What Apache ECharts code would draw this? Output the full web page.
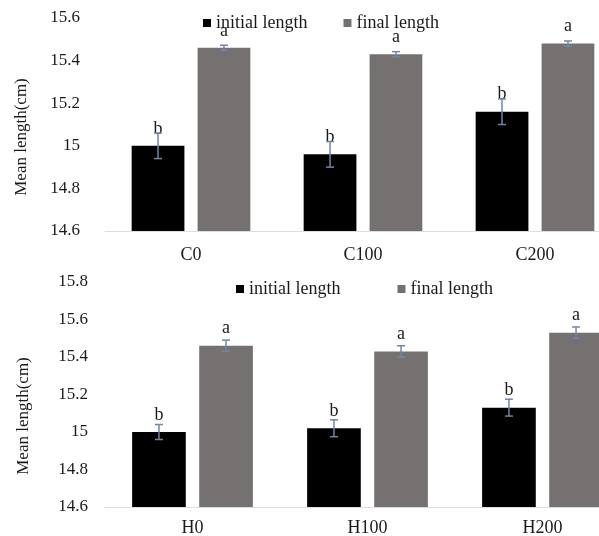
<!DOCTYPE html>
<html>
<head>
<meta charset="utf-8">
<script src="https://cdn.jsdelivr.net/npm/echarts@6/dist/echarts.min.js"></script>
<style>html,body{margin:0;padding:0;background:#fff}#c{width:599px;height:536px}</style>
</head>
<body>
<div id="c"></div>
<script>
// ---- data ----
const topCategories = ['C0', 'C100', 'C200'];
const topInitial = [15.00, 14.96, 15.16];
const topInitialErr = [0.06, 0.06, 0.06];
const topFinal = [15.46, 15.43, 15.48];
const topFinalErr = [0.012, 0.012, 0.012];
const topInitialLetters = ['b', 'b', 'b'];
const topFinalLetters = ['a', 'a', 'a'];

const botCategories = ['H0', 'H100', 'H200'];
const botInitial = [15.00, 15.02, 15.13];
const botInitialErr = [0.04, 0.045, 0.045];
const botFinal = [15.46, 15.43, 15.53];
const botFinalErr = [0.03, 0.03, 0.03];
const botInitialLetters = ['b', 'b', 'b'];
const botFinalLetters = ['a', 'a', 'a'];

const seriesNames = ['initial length', 'final length'];
const yAxisTitle = 'Mean length(cm)';

// ---- styles ----
const FONT = '"Liberation Serif", "Times New Roman", serif';
const TXT = '#1a1a1a';
const C_INIT = '#000000';
const C_FINAL = '#767171';
const C_ERR = '#7186a4';
const CAT_GAP = 0.31, BAR_GAP = 0.25;

function errRender(sign) {
  return function (params, api) {
    const cat = api.value(0), v = api.value(1), e = api.value(2);
    const W = api.size([1, 0])[0];
    const b = W * (1 - CAT_GAP) / (2 + BAR_GAP);
    const off = sign * (b / 2 + b * BAR_GAP / 2);
    const x = api.coord([cat, v])[0] + off;
    const yT = api.coord([cat, v + e])[1];
    const yB = api.coord([cat, v - e])[1];
    const st = { stroke: C_ERR, lineWidth: 1.5 };
    return {
      type: 'group',
      children: [
        { type: 'line', shape: { x1: x, y1: yT, x2: x, y2: yB }, style: st },
        { type: 'line', shape: { x1: x - 4, y1: yT, x2: x + 4, y2: yT }, style: st },
        { type: 'line', shape: { x1: x - 4, y1: yB, x2: x + 4, y2: yB }, style: st }
      ]
    };
  };
}

function barSeries(name, data, letters, color, idx) {
  return {
    name: name, type: 'bar', xAxisIndex: idx, yAxisIndex: idx,
    data: data, barCategoryGap: (CAT_GAP * 100) + '%', barGap: (BAR_GAP * 100) + '%',
    itemStyle: { color: color },
    label: {
      show: true, position: 'top', distance: 8,
      formatter: p => letters[p.dataIndex],
      fontFamily: FONT, fontSize: 18, color: TXT
    },
    emphasis: { disabled: true }
  };
}
function errSeries(values, errs, sign, idx) {
  return {
    type: 'custom', xAxisIndex: idx, yAxisIndex: idx, z: 5,
    renderItem: errRender(sign),
    encode: { x: 0, y: 1 },
    data: values.map((v, i) => [i, v, errs[i]]),
    silent: true, clip: false
  };
}
function xAx(cats, idx, margin) {
  return {
    type: 'category', gridIndex: idx, data: cats,
    axisLine: { lineStyle: { color: '#d9dde6', width: 1 } },
    axisTick: { show: false },
    axisLabel: { fontFamily: FONT, fontSize: 18, color: TXT, margin: margin }
  };
}
function yAx(idx, min, max, margin) {
  return {
    type: 'value', gridIndex: idx, min: min, max: max, interval: 0.2,
    axisLine: { show: false }, axisTick: { show: false }, splitLine: { show: false },
    axisLabel: {
      fontFamily: FONT, fontSize: 17, color: TXT, margin: margin,
      formatter: v => String(+v.toFixed(1))
    }
  };
}

const chart = echarts.init(document.getElementById('c'));
chart.setOption({
  animation: false,
  backgroundColor: '#fff',
  grid: [
    { left: 105, top: 18, width: 516, height: 213, outerBoundsMode: 'none', containLabel: false },
    { left: 105, top: 282, width: 525, height: 225, outerBoundsMode: 'none', containLabel: false }
  ],
  legend: [
    {
      left: 198, top: 9, itemWidth: 8, itemHeight: 8, itemGap: 36, icon: 'rect',
      data: seriesNames, textStyle: { fontFamily: FONT, fontSize: 18, color: TXT }, selectedMode: false
    },
    {
      left: 231, top: 275, itemWidth: 8, itemHeight: 8, itemGap: 57, icon: 'rect',
      data: seriesNames, textStyle: { fontFamily: FONT, fontSize: 18, color: TXT }, selectedMode: false
    }
  ],
  xAxis: [xAx(topCategories, 0, 15), xAx(botCategories, 1, 12)],
  yAxis: [yAx(0, 14.6, 15.6, 25), yAx(1, 14.6, 15.8, 17)],
  graphic: [
    { type: 'text', x: 22, y: 137, rotation: Math.PI / 2,
      style: { text: yAxisTitle, font: '17px ' + FONT, fill: TXT, align: 'center', verticalAlign: 'middle' } },
    { type: 'text', x: 24, y: 416, rotation: Math.PI / 2,
      style: { text: yAxisTitle, font: '17px ' + FONT, fill: TXT, align: 'center', verticalAlign: 'middle' } }
  ],
  series: [
    barSeries(seriesNames[0], topInitial, topInitialLetters, C_INIT, 0),
    barSeries(seriesNames[1], topFinal, topFinalLetters, C_FINAL, 0),
    errSeries(topInitial, topInitialErr, -1, 0),
    errSeries(topFinal, topFinalErr, 1, 0),
    barSeries(seriesNames[0], botInitial, botInitialLetters, C_INIT, 1),
    barSeries(seriesNames[1], botFinal, botFinalLetters, C_FINAL, 1),
    errSeries(botInitial, botInitialErr, -1, 1),
    errSeries(botFinal, botFinalErr, 1, 1)
  ]
});
</script>
</body>
</html>
